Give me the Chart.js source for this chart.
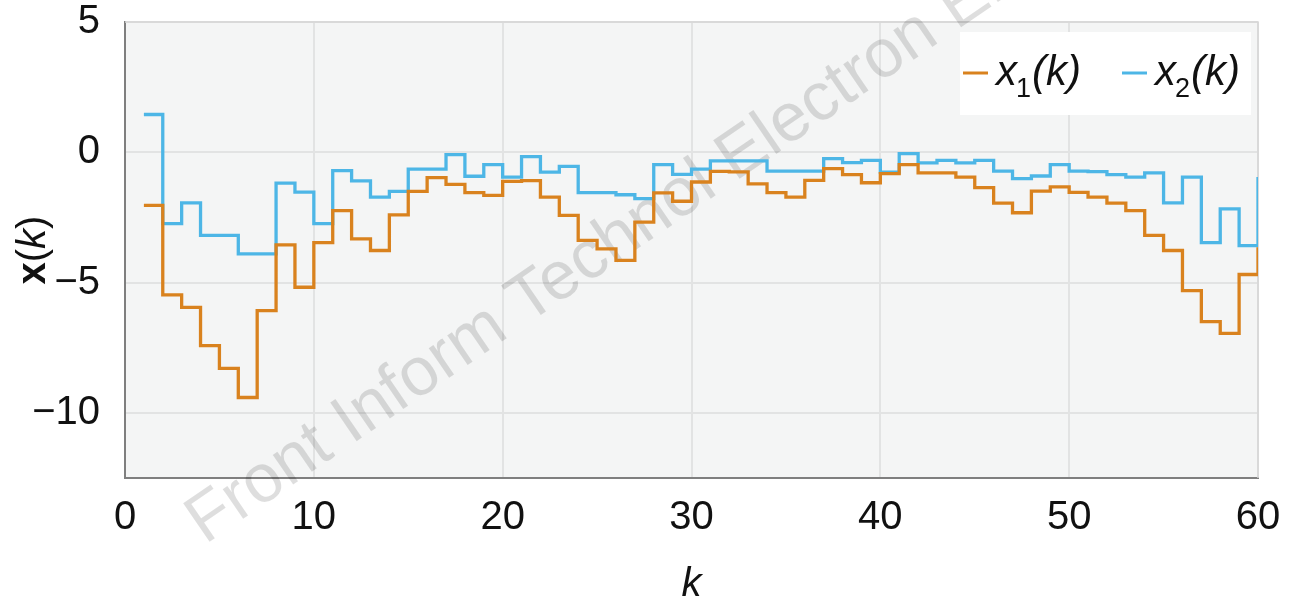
<!DOCTYPE html>
<html>
<head>
<meta charset="utf-8">
<script src="https://cdn.jsdelivr.net/npm/chart.js@4"></script>
<style>
  html, body { margin: 0; padding: 0; background: #fff; }
</style>
</head>
<body>
<canvas id="myChart" width="1291" height="605"></canvas>
<script>
'use strict';

// time steps k
const k = [1, 2, 3, 4, 5, 6, 7, 8, 9, 10,
  11, 12, 13, 14, 15, 16, 17, 18, 19, 20,
  21, 22, 23, 24, 25, 26, 27, 28, 29, 30,
  31, 32, 33, 34, 35, 36, 37, 38, 39, 40,
  41, 42, 43, 44, 45, 46, 47, 48, 49, 50,
  51, 52, 53, 54, 55, 56, 57, 58, 59, 60];

// x1(k) - orange
const x1 = [-2.04, -5.47, -5.95, -7.42, -8.29, -9.41, -6.08, -3.55, -5.18, -3.47,
  -2.24, -3.32, -3.77, -2.40, -1.50, -0.97, -1.23, -1.55, -1.65, -1.12,
  -1.09, -1.72, -2.42, -3.38, -3.71, -4.15, -2.68, -1.56, -1.88, -1.14,
  -0.73, -0.75, -1.21, -1.55, -1.72, -1.08, -0.63, -0.86, -1.17, -0.82,
  -0.47, -0.79, -0.79, -0.95, -1.36, -1.95, -2.32, -1.49, -1.33, -1.54,
  -1.72, -1.95, -2.24, -3.19, -3.77, -5.31, -6.50, -6.95, -4.69, -3.64];

// x2(k) - blue
const x2 = [1.45, -2.74, -1.94, -3.19, -3.19, -3.90, -3.90, -1.18, -1.53, -2.74,
  -0.70, -1.10, -1.72, -1.50, -0.65, -0.65, -0.09, -0.92, -0.47, -0.95,
  -0.17, -0.76, -0.54, -1.55, -1.55, -1.63, -1.78, -0.47, -0.85, -0.65,
  -0.33, -0.33, -0.33, -0.72, -0.72, -0.72, -0.24, -0.40, -0.31, -0.76,
  -0.05, -0.41, -0.31, -0.41, -0.31, -0.72, -1.01, -0.91, -0.47, -0.72,
  -0.74, -0.86, -0.95, -0.79, -1.94, -0.95, -3.47, -2.17, -3.58, -0.95];

const xTicks = [0, 10, 20, 30, 40, 50, 60];
const yTicks = [-10, -5, 0, 5];

const ORANGE = '#d9821e';
const BLUE = '#4db6e6';
const FONT = "'Liberation Sans', Arial, sans-serif";

Chart.defaults.font.family = FONT;
Chart.defaults.color = '#111';

const toPoints = (xs, ys) => xs.map((v, i) => ({ x: v, y: ys[i] }));

// scales should not push the plot area inwards for their edge labels
const noEdgePadding = s => {
  s.paddingTop = 0;
  s.paddingBottom = 0;
  s.paddingLeft = 0;
  s.paddingRight = 0;
};

// plot background, frame, axis title, watermark and legend
const decor = {
  id: 'decor',
  beforeDraw(chart) {
    const { ctx, chartArea: a } = chart;
    ctx.save();
    ctx.fillStyle = '#f4f5f5';
    ctx.fillRect(a.left, a.top, a.right - a.left, a.bottom - a.top);
    ctx.restore();
  },
  beforeDatasetsDraw(chart) {
    const { ctx, chartArea: a } = chart;
    ctx.save();
    ctx.strokeStyle = '#d6d6d6';
    ctx.lineWidth = 1.5;
    ctx.beginPath();
    ctx.moveTo(a.left, a.top);
    ctx.lineTo(a.right, a.top);
    ctx.lineTo(a.right, a.bottom);
    ctx.stroke();
    // watermark
    ctx.translate(205, 545);
    ctx.rotate(-34.4 * Math.PI / 180);
    ctx.font = '68px ' + FONT;
    ctx.fillStyle = 'rgba(0,0,0,0.13)';
    ctx.textBaseline = 'alphabetic';
    ctx.fillText('Front Inform Technol Electron Eng', 0, 0);
    ctx.restore();
  },
  afterDraw(chart) {
    const { ctx, chartArea: a } = chart;
    ctx.save();
    // y axis title: bold x, italic k
    ctx.translate(34, (a.top + a.bottom) / 2);
    ctx.rotate(-Math.PI / 2);
    ctx.textBaseline = 'middle';
    ctx.fillStyle = '#111';
    const parts = [
      ['x', 'bold 40px ' + FONT],
      ['(', '40px ' + FONT],
      ['k', 'italic 40px ' + FONT],
      [')', '40px ' + FONT]
    ];
    let w = 0;
    parts.forEach(p => { ctx.font = p[1]; w += ctx.measureText(p[0]).width; });
    let cx = -w / 2;
    parts.forEach(p => { ctx.font = p[1]; ctx.fillText(p[0], cx, 0); cx += ctx.measureText(p[0]).width; });
    ctx.restore();

    // legend
    ctx.save();
    ctx.fillStyle = '#fff';
    ctx.fillRect(960, 32, 291, 83);
    const items = [
      { c: ORANGE, sub: '1', x: 963 },
      { c: BLUE, sub: '2', x: 1122 }
    ];
    items.forEach(it => {
      ctx.strokeStyle = it.c;
      ctx.lineWidth = 3;
      ctx.beginPath();
      ctx.moveTo(it.x, 73);
      ctx.lineTo(it.x + 25, 73);
      ctx.stroke();
      ctx.fillStyle = '#111';
      ctx.textBaseline = 'alphabetic';
      let tx = it.x + 33;
      ctx.font = 'italic 42px ' + FONT;
      ctx.fillText('x', tx, 85);
      tx += ctx.measureText('x').width;
      ctx.font = '27px ' + FONT;
      ctx.fillText(it.sub, tx - 1, 97);
      tx += ctx.measureText(it.sub).width;
      ctx.font = 'italic 42px ' + FONT;
      ctx.fillText('(k)', tx, 85);
    });
    ctx.restore();
  }
};

const ctx = document.getElementById('myChart');

new Chart(ctx, {
  type: 'line',
  data: {
    datasets: [
      {
        label: 'x1(k)',
        data: toPoints(k, x1),
        borderColor: ORANGE,
        borderWidth: 3.3,
        pointRadius: 0,
        stepped: true,
        fill: false
      },
      {
        label: 'x2(k)',
        data: toPoints(k, x2),
        borderColor: BLUE,
        borderWidth: 3.3,
        pointRadius: 0,
        stepped: true,
        fill: false
      }
    ]
  },
  options: {
    responsive: false,
    animation: false,
    layout: { padding: { top: 22, right: 33, left: 0, bottom: 0 } },
    plugins: {
      legend: { display: false },
      tooltip: { enabled: false }
    },
    scales: {
      x: {
        type: 'linear',
        min: 0,
        max: 60,
        afterBuildTicks: s => { s.ticks = xTicks.map(v => ({ value: v })); },
        afterFit: s => { s.height = 127; noEdgePadding(s); },
        grid: { color: '#e2e3e3', lineWidth: 2, drawTicks: false },
        border: { color: '#7f7f7f', width: 2 },
        ticks: { font: { size: 40, lineHeight: 1 }, padding: 20, maxRotation: 0 },
        title: {
          display: true,
          text: 'k',
          font: { size: 40, style: 'italic', lineHeight: 1 },
          padding: { top: 0, bottom: 0 }
        }
      },
      y: {
        min: -12.5,
        max: 5,
        afterBuildTicks: s => { s.ticks = yTicks.map(v => ({ value: v })); },
        afterFit: s => { s.width = 125; noEdgePadding(s); },
        grid: { color: '#e2e3e3', lineWidth: 2, drawTicks: false },
        border: { color: '#7f7f7f', width: 2 },
        ticks: {
          font: { size: 40, lineHeight: 1 },
          padding: 25,
          callback: v => String(v).replace('-', '\u2212')
        }
      }
    }
  },
  plugins: [decor]
});
</script>
</body>
</html>
